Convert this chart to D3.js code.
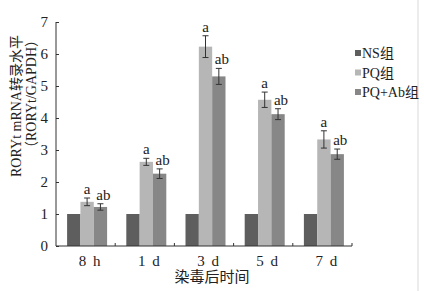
<!DOCTYPE html>
<html>
<head>
<meta charset="utf-8">
<script src="https://cdn.jsdelivr.net/npm/d3@7"></script>
<style>
body{margin:0;background:#fff;}
svg text{font-family:"Liberation Serif","Noto Sans CJK SC",serif;fill:#222;}
</style>
</head>
<body>
<div id="chart"></div>
<script>
(function(){

var width = 424,
	height = 291;

// data
var groups = ["8 h","1 d","3 d","5 d","7 d"];
var series = ["NS组","PQ组","PQ+Ab组"];
var ns = [1,1,1,1,1];
var pq = [1.38,2.63,6.23,4.57,3.33];
var pqab = [1.22,2.26,5.30,4.12,2.87];
var pq_err = [0.12,0.11,0.34,0.24,0.27];
var pqab_err = [0.10,0.15,0.25,0.17,0.16];
var pq_sig = ["a","a","a","a","a"];
var pqab_sig = ["ab","ab","ab","ab","ab"];
var yticks = [0,1,2,3,4,5,6,7];

var colors = ["#5e5e5e","#b6b6b6","#878787"];

var margin = {left:56, top:22, right:72, bottom:45};

var X = d3.scaleBand().domain(groups).range([margin.left, 352]).paddingInner(0).paddingOuter(0);
var Y = d3.scaleLinear().domain([0,7]).range([246,22]);
var B = d3.scaleBand().domain(series).range([0,40]);

var svg = d3.select("#chart").append("svg")
	.attr("width",width)
	.attr("height",height);

svg.append("rect").attr("width",width).attr("height",height).style("fill","#fff");
svg.append("line").attr("x1",418).attr("x2",418).attr("y1",0).attr("y2",height)
	.style("stroke","#ececec").style("stroke-width",2);

var rows = groups.map(function(g,i){
	return {g:g, vals:[
		{s:series[0], v:ns[i], c:colors[0]},
		{s:series[1], v:pq[i], c:colors[1], e:pq_err[i], sig:pq_sig[i]},
		{s:series[2], v:pqab[i], c:colors[2], e:pqab_err[i], sig:pqab_sig[i]}
	]};
});

var gg = svg.selectAll(".grp").data(rows).enter().append("g")
	.attr("class","grp")
	.attr("transform",function(d){return "translate("+(X(d.g)+X.bandwidth()/2-18.5)+",0)"});

gg.selectAll("rect").data(function(d){return d.vals}).enter().append("rect")
	.attr("x",function(d){return B(d.s)})
	.attr("width",B.bandwidth())
	.attr("y",function(d){return Y(d.v)})
	.attr("height",function(d){return Y(0)-Y(d.v)})
	.style("fill",function(d){return d.c});

var eb = gg.selectAll(".err").data(function(d){return d.vals.filter(function(v){return v.e})}).enter().append("g")
	.attr("class","err")
	.style("stroke","#333").style("stroke-width",1);
eb.append("line")
	.attr("x1",function(d){return B(d.s)+B.bandwidth()/2})
	.attr("x2",function(d){return B(d.s)+B.bandwidth()/2})
	.attr("y1",function(d){return Y(d.v+d.e)})
	.attr("y2",function(d){return Y(d.v-d.e)});
eb.selectAll(".cap").data(function(d){return [d.v+d.e, d.v-d.e].map(function(y){return {s:d.s,y:y}})}).enter().append("line")
	.attr("x1",function(d){return B(d.s)+B.bandwidth()/2-3})
	.attr("x2",function(d){return B(d.s)+B.bandwidth()/2+3})
	.attr("y1",function(d){return Y(d.y)})
	.attr("y2",function(d){return Y(d.y)});

gg.selectAll(".sig").data(function(d){return d.vals.filter(function(v){return v.sig})}).enter().append("text")
	.attr("class","sig")
	.attr("x",function(d){return B(d.s)+B.bandwidth()/2 + (d.sig=="ab"?3:0)})
	.attr("y",function(d){return Y(d.v+d.e)-4})
	.attr("text-anchor","middle")
	.style("font-size","15px")
	.text(function(d){return d.sig});

// axes
var yAxis = d3.axisLeft(Y).tickValues(yticks).tickSize(-3).tickPadding(8).tickFormat(d3.format("d"));
var ya = svg.append("g").attr("transform","translate("+margin.left+",0)").call(yAxis);
ya.select(".domain").attr("d","M0,"+Y(7)+"V"+Y(0));
ya.selectAll("text").style("font-size","15px");
ya.selectAll("line,path").style("stroke","#333");

svg.append("line").attr("x1",margin.left).attr("x2",352).attr("y1",Y(0)).attr("y2",Y(0)).style("stroke","#333");
svg.selectAll(".xt").data(groups).enter().append("line")
	.attr("x1",function(d){return X(d)+X.bandwidth()})
	.attr("x2",function(d){return X(d)+X.bandwidth()})
	.attr("y1",Y(0)).attr("y2",Y(0)-3)
	.style("stroke","#333");

svg.selectAll(".xl").data(groups).enter().append("text")
	.attr("x",function(d){return X(d)+X.bandwidth()/2+4})
	.attr("y",266)
	.attr("text-anchor","middle")
	.style("font-size","15px")
	.style("word-spacing","3px")
	.text(function(d){return d});

svg.append("text").attr("x",212).attr("y",282).attr("text-anchor","middle")
	.style("font-size","15px").text("染毒后时间");

svg.append("text").attr("transform","translate(21,106) rotate(-90)").attr("text-anchor","middle")
	.style("font-size","14px").text("RORYt mRNA转录水平");
svg.append("text").attr("transform","translate(36,94) rotate(-90)").attr("text-anchor","middle")
	.style("font-size","14px").text("（RORYt/GAPDH）");

// legend
var lg = svg.selectAll(".lg").data(series).enter().append("g")
	.attr("transform",function(d,i){return "translate(355,"+(53+i*19.5)+")"});
lg.append("rect").attr("x",0).attr("y",-3).attr("width",6).attr("height",6)
	.style("fill",function(d,i){return colors[i]});
lg.append("text").attr("x",7).attr("y",5).style("font-size","14px").text(function(d){return d});

})()
</script>
</body>
</html>
